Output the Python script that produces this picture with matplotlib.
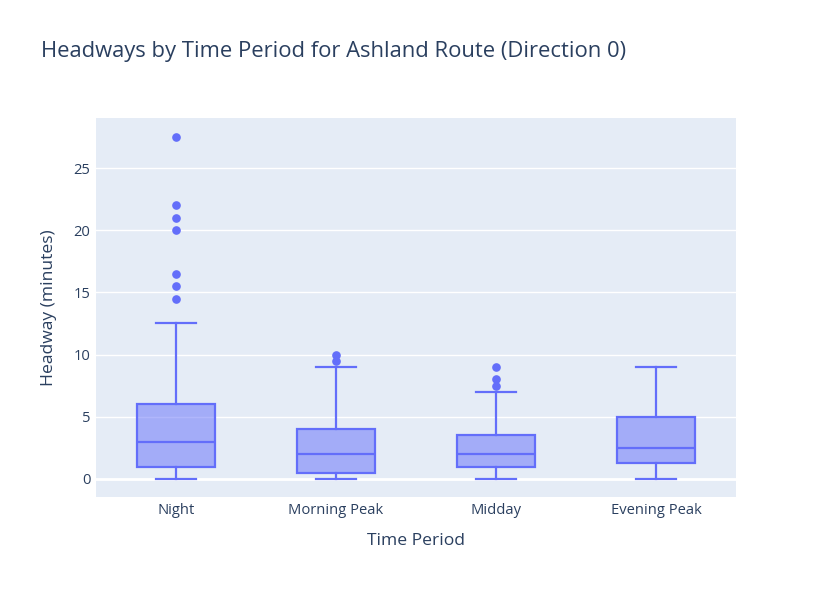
import matplotlib
matplotlib.use("Agg")
import matplotlib.pyplot as plt

categories = ["Night", "Morning Peak", "Midday", "Evening Peak"]
mins = [0, 0, 0, 0]
q1s = [1, 0.5, 1, 1.25]
medians = [3, 2, 2, 2.5]
q3s = [6, 4, 3.5, 5]
upper_whiskers = [12.5, 9, 7, 9]
outliers = [
    [14.5, 15.5, 16.5, 20, 21, 22, 27.5],
    [9.5, 10],
    [7.5, 8, 9],
    [],
]
yticks = [0, 5, 10, 15, 20, 25]

title = "Headways by Time Period for Ashland Route (Direction 0)"
xlabel = "Time Period"
ylabel = "Headway (minutes)"

W, H = 831, 593
fig = plt.figure(figsize=(W / 100, H / 100), dpi=100)
ax = fig.add_axes([96 / W, (H - 497) / H, 640 / W, 379 / H])
bg = "#E5ECF6"
line_c = "#636EFA"
txt_c = "#2a3f5f"
ax.set_facecolor(bg)

stats = []
for i, c in enumerate(categories):
    stats.append(dict(label=c, whislo=mins[i], q1=q1s[i], med=medians[i],
                      q3=q3s[i], whishi=upper_whiskers[i], fliers=outliers[i]))

lw = 1.6
positions = list(range(len(categories)))
bp = ax.bxp(stats, positions=positions, widths=0.49, patch_artist=True,
            showfliers=True, manage_ticks=False,
            boxprops=dict(facecolor=(0.388, 0.431, 0.98, 0.5), edgecolor=line_c, linewidth=lw),
            medianprops=dict(color=line_c, linewidth=lw),
            whiskerprops=dict(color=line_c, linewidth=lw),
            capprops=dict(color=line_c, linewidth=lw),
            flierprops=dict(marker="o", markerfacecolor=line_c, markeredgecolor=line_c,
                            markersize=5.2, linestyle="none"),
            capwidths=0.245, zorder=3)

ax.set_xlim(-0.5, 3.5)
ax.set_ylim(-1.45, 29.02)
ax.set_xticks(positions)
ax.set_xticklabels(categories)
ax.set_yticks(yticks)
ax.grid(axis="y", color="white", linewidth=1.0, zorder=0)
ax.axhline(0, color="white", linewidth=2, zorder=1)
ax.set_axisbelow(True)
for s in ax.spines.values():
    s.set_visible(False)
ax.tick_params(length=0, labelsize=10.6, colors=txt_c, pad=4)
for lab in ax.get_xticklabels() + ax.get_yticklabels():
    lab.set_fontfamily("Open Sans")

ax.set_xlabel(xlabel, fontsize=12.6, color=txt_c, fontfamily="Open Sans", labelpad=11)
ax.set_ylabel(ylabel, fontsize=12.6, color=txt_c, fontfamily="Open Sans", labelpad=12)
fig.text(41 / W, 1 - 52 / H, title, fontsize=15.85, color=txt_c, fontfamily="Open Sans",
         ha="left", va="center")

fig.savefig("out.png", dpi=100, facecolor="white")
